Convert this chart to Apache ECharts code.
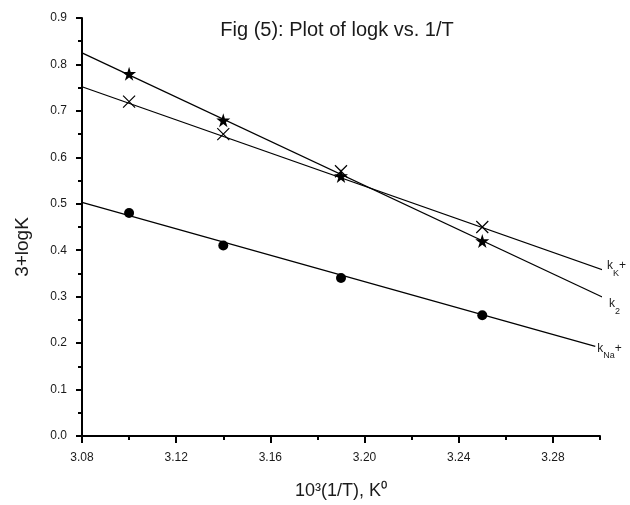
<!DOCTYPE html>
<html>
<head>
<meta charset="utf-8">
<script src="https://cdn.jsdelivr.net/npm/echarts@6/dist/echarts.min.js"></script>
<style>html,body{margin:0;padding:0;background:#fff}#c{width:630px;height:505px}</style>
</head>
<body>
<div id="c"></div>
<script>
// ---- data ----
const invT = [3.10, 3.14, 3.19, 3.25];
const k2 = [0.78, 0.68, 0.56, 0.42];
const kK = [0.72, 0.65, 0.57, 0.45];
const kNa = [0.48, 0.41, 0.34, 0.26];
// fitted straight lines (start, end)
const k2Fit = [[3.08, 0.825], [3.304, 0.292]];
const kKFit = [[3.08, 0.752], [3.302, 0.356]];
const kNaFit = [[3.08, 0.503], [3.298, 0.193]];
const titleText = 'Fig (5): Plot of logk vs. 1/T';
const xName = '10³(1/T), K⁰';
const yName = '3+logK';

const pts = (xs, ys) => xs.map((x, i) => [x, ys[i]]);
const FONT = 'Liberation Sans, Arial, sans-serif';
const TXT = '#1a1a1a';
const STAR = 'path://M50,0 L61,35 L98,35 L68,57 L79,91 L50,70 L21,91 L32,57 L2,35 L39,35 Z';
const XMARK = 'path://M0,0 L10,10 M10,0 L0,10';

const rich = {
  b: {fontSize: 12, fontFamily: FONT, color: TXT, lineHeight: 14, verticalAlign: 'middle'},
  s: {fontSize: 9, fontFamily: FONT, color: TXT, lineHeight: 24, verticalAlign: 'bottom'}
};
function fitSeries(data, label, offset) {
  return {
    type: 'line', data: data, symbol: 'none', clip: false, silent: true,
    lineStyle: {color: '#000', width: 1.2},
    endLabel: {show: true, formatter: label, rich: rich, offset: offset, distance: 2, align: 'left'},
    z: 2
  };
}

const chart = echarts.init(document.getElementById('c'), null, {renderer: 'canvas'});
const axisCommon = {
  axisLine: {show: true, onZero: false, lineStyle: {color: '#000', width: 2}},
  splitLine: {show: false}
};
chart.setOption({
  animation: false,
  backgroundColor: '#fff',
  title: {
    text: titleText, left: 332, top: 15, textAlign: 'center',
    textStyle: {fontSize: 20, fontWeight: 'normal', fontFamily: FONT, color: TXT}
  },
  grid: {left: 82, right: 30, top: 18, bottom: 67},
  xAxis: [{
    type: 'value', min: 3.08, max: 3.30, interval: 0.04,
    ...axisCommon,
    axisTick: {show: true, inside: false, length: 7, lineStyle: {color: '#000', width: 2}},
    axisLabel: {
      fontSize: 12, fontFamily: FONT, color: TXT, margin: 16, showMaxLabel: false,
      formatter: v => v.toFixed(2)
    },
    name: xName, nameLocation: 'middle', nameGap: 46,
    nameTextStyle: {fontSize: 18, fontFamily: FONT, color: TXT}
  }, {
    type: 'value', min: 3.08, max: 3.30, interval: 0.02, position: 'bottom',
    axisLine: {show: false}, splitLine: {show: false},
    axisTick: {show: true, length: 4, lineStyle: {color: '#000', width: 2}},
    axisLabel: {show: false}
  }],
  yAxis: {
    type: 'value', min: 0, max: 0.9, interval: 0.1,
    ...axisCommon,
    axisTick: {show: true, inside: false, length: 6, lineStyle: {color: '#000', width: 2}},
    minorTick: {show: true, splitNumber: 2, length: 4, lineStyle: {color: '#000', width: 2}},
    axisLabel: {fontSize: 12, fontFamily: FONT, color: TXT, margin: 15, formatter: v => v.toFixed(1)},
    name: yName, nameLocation: 'middle', nameGap: 50, nameRotate: 90,
    nameTextStyle: {fontSize: 19, fontFamily: FONT, color: TXT, padding: [0, 40, 0, 0]}
  },
  series: [
    fitSeries(k2Fit, '{b|k}{s|2}', [5, 7]),
    fitSeries(kKFit, '{b|k}{s|K}{b|+}', [3, -4]),
    fitSeries(kNaFit, '{b|k}{s|Na}{b|+}', [0, 2]),
    {type: 'scatter', data: pts(invT, k2), symbol: STAR, symbolSize: 14,
     itemStyle: {color: '#000', opacity: 1}, z: 3},
    {type: 'scatter', data: pts(invT, kK), symbol: XMARK, symbolSize: 12,
     itemStyle: {color: 'none', borderColor: '#000', borderWidth: 1.2, opacity: 1}, z: 3},
    {type: 'scatter', data: pts(invT, kNa), symbol: 'circle', symbolSize: 10,
     itemStyle: {color: '#000', opacity: 1}, z: 3}
  ]
});
</script>
</body>
</html>
